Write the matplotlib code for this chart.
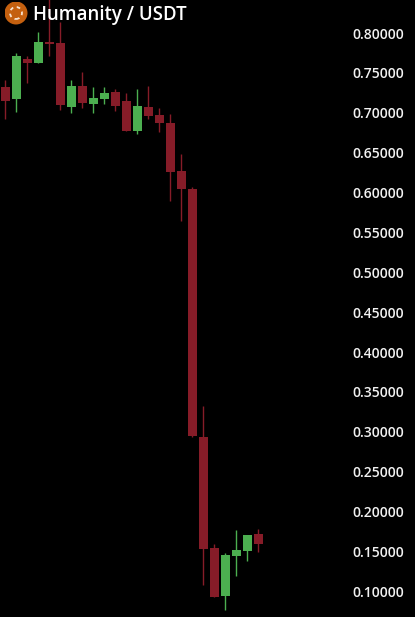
import numpy as np
import matplotlib
matplotlib.use('Agg')
import matplotlib.pyplot as plt
from matplotlib.patches import Circle

# Candle values
opens  = [0.7335, 0.7188, 0.7686, 0.7636, 0.7900, 0.7887, 0.7084, 0.7348, 0.7122, 0.7185, 0.7272, 0.7160,
          0.6783, 0.7084, 0.6984, 0.6884, 0.6281, 0.6056, 0.2945, 0.1552, 0.0954, 0.1456, 0.1519, 0.1728]
closes = [0.7163, 0.7724, 0.7636, 0.7900, 0.7875, 0.7109, 0.7344, 0.7134, 0.7197, 0.7260, 0.7097, 0.6783,
          0.7097, 0.6971, 0.6884, 0.6269, 0.6056, 0.2957, 0.1543, 0.0941, 0.1465, 0.1527, 0.1715, 0.1606]
highs  = [0.7423, 0.7765, 0.7724, 0.8025, 0.8552, 0.8154, 0.7423, 0.7523, 0.7335, 0.7335, 0.7310, 0.7260,
          0.7310, 0.7348, 0.7072, 0.6996, 0.6495, 0.6081, 0.3334, 0.1602, 0.1490, 0.1778, 0.1715, 0.1790]
lows   = [0.6934, 0.7025, 0.7389, 0.7636, 0.7728, 0.7047, 0.7013, 0.7072, 0.7009, 0.7122, 0.7034, 0.6783,
          0.6749, 0.6934, 0.6771, 0.5905, 0.5654, 0.2945, 0.1088, 0.0937, 0.0775, 0.1204, 0.1393, 0.1502]
price_ticks = [0.80, 0.75, 0.70, 0.65, 0.60, 0.55, 0.50, 0.45, 0.40, 0.35, 0.30, 0.25, 0.20, 0.15, 0.10]
title = 'Humanity / USDT'

GREEN = '#4CAF50'
RED = '#861C28'

fig = plt.figure(figsize=(4.15, 6.17), dpi=100, facecolor='black')
ax = fig.add_axes([0, 0, 1, 1], facecolor='black')
ax.set_xlim(-0.482, 37.25)
ax.set_ylim(0.06869, 0.84265)
ax.axis('off')

x = np.arange(len(opens))
o = np.array(opens)
c = np.array(closes)
colors = [GREEN if b > a else RED for a, b in zip(o, c)]

ax.vlines(x, lows, highs, colors=colors, linewidth=1.0, zorder=2)
ax.bar(x, np.abs(c - o), bottom=np.minimum(o, c), width=0.82, color=colors, linewidth=0, zorder=3)

# Price labels sit inside the picture on the right
for p in price_ticks:
    ax.text(0.85, p - 0.0008, '%.5f' % p, transform=ax.get_yaxis_transform(), color='#F2F2F2',
            fontsize=10, family='Open Sans', va='center', ha='left', fontweight='semibold', zorder=5)

fig.text(33 / 415, 1 - 15 / 617, title, color='white', fontsize=13.4, family='Open Sans',
         fontweight='semibold', va='center', ha='left', zorder=6)

# Round coin logo
logo = fig.add_axes([4.5 / 415, 1 - 24.5 / 617, 23 / 415, 23 / 617], facecolor='none')
logo.set_xlim(-1, 1)
logo.set_ylim(-1, 1)
logo.axis('off')
logo.add_patch(Circle((0, 0), 1, color='#C4600F', linewidth=0))
logo.add_patch(Circle((0, 0), 0.52, fill=False, edgecolor='#F6E3D0', linewidth=1.3, linestyle=(0, (2.0, 2.0))))

fig.savefig('out.png', dpi=100, facecolor='black')
